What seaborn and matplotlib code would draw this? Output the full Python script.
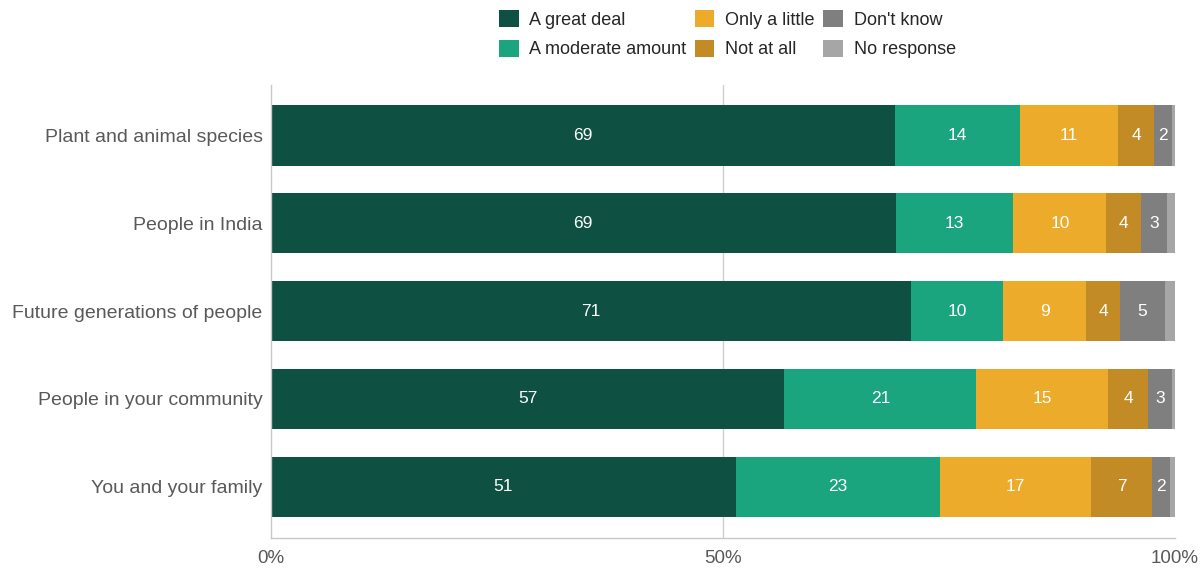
import matplotlib
matplotlib.use('Agg')
import matplotlib.pyplot as plt
from matplotlib.patches import Patch
import seaborn as sns
import pandas as pd

# groups (top to bottom) and response shares in %
groups = ["Plant and animal species", "People in India", "Future generations of people",
          "People in your community", "You and your family"]
responses = ["A great deal", "A moderate amount", "Only a little",
             "Not at all", "Don't know", "No response"]
great_deal = [69.0, 69.1, 70.8, 56.8, 51.4]
moderate = [13.8, 13.0, 10.2, 21.2, 22.6]
only_little = [10.9, 10.3, 9.2, 14.6, 16.7]
not_at_all = [4.0, 3.8, 3.7, 4.4, 6.8]
dont_know = [2.0, 2.9, 5.0, 2.7, 1.9]
no_response = [0.3, 0.9, 1.1, 0.3, 0.6]

colors = ["#0e5142", "#1ba57f", "#edab2c", "#c38b25", "#7f7f7f", "#a6a6a6"]

df = pd.DataFrame({
    "group": groups,
    responses[0]: great_deal,
    responses[1]: moderate,
    responses[2]: only_little,
    responses[3]: not_at_all,
    responses[4]: dont_know,
    responses[5]: no_response,
})
cum = df[responses].cumsum(axis=1)

sns.set_theme(style="white")
plt.rcParams['font.family'] = ['Liberation Sans', 'DejaVu Sans']

fig = plt.figure(figsize=(12.04, 5.71), dpi=100)
ax = fig.add_axes([0.225, 0.058, 0.751, 0.793])

# stacked bars: draw cumulative totals from longest to shortest
for col, color in reversed(list(zip(responses, colors))):
    sns.barplot(x=cum[col], y=df["group"], order=groups, color=color, saturation=1,
                orient="h", width=0.69, linewidth=0, ax=ax, zorder=2)

# value labels
for i, g in enumerate(groups):
    for col in responses[:-1]:
        v = df.loc[i, col]
        if v >= 1.5:
            ax.text(cum.loc[i, col] - v / 2, i, f"{round(v)}", ha="center", va="center",
                    color="white", fontsize=12.5, zorder=3)

ax.set_xlim(0, 100)
ax.set_ylim(4.58, -0.57)
ax.set_xticks([0, 50, 100])
ax.set_xticklabels(["0%", "50%", "100%"])
ax.set_xlabel("")
ax.set_ylabel("")
ax.axvline(50, color="#cccccc", linewidth=1, zorder=1)
ax.tick_params(axis="x", length=0, pad=9, labelsize=13.5, labelcolor="#595959")
ax.tick_params(axis="y", length=0, pad=6, labelsize=14, labelcolor="#595959")
for s in ["top", "right"]:
    ax.spines[s].set_visible(False)
for s in ["left", "bottom"]:
    ax.spines[s].set_color("#c8c8c8")
    ax.spines[s].set_linewidth(1)

handles = [Patch(facecolor=c, edgecolor="none") for c in colors]
fig.legend(handles, responses, ncol=3, loc="upper center", bbox_to_anchor=(0.604, 1.0),
           frameon=False, fontsize=13, handlelength=1.1, handleheight=1.1,
           columnspacing=0.45, handletextpad=0.6, labelspacing=0.6, borderaxespad=0.15)

fig.savefig("out.png", dpi=100)
